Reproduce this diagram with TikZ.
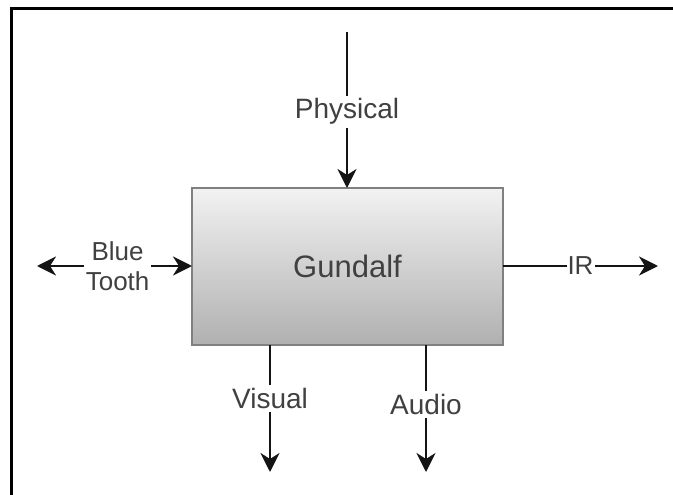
\documentclass[tikz,border=0pt]{standalone}
\usepackage{fontspec}
\setmainfont{Liberation Sans}
\usetikzlibrary{arrows.meta}
\definecolor{linec}{RGB}{20,20,20}
\definecolor{txtc}{RGB}{64,64,64}
\definecolor{boxtop}{RGB}{242,242,242}
\definecolor{boxbot}{RGB}{176,176,176}
\definecolor{boxline}{RGB}{128,128,128}
\begin{document}
\begin{tikzpicture}[x=1pt,y=-1pt,
  conn/.style={line width=2.2pt, draw=linec},
  tipend/.style={-{Stealth[length=19pt,width=19pt,inset=6pt]}},
  tipboth/.style={{Stealth[length=19pt,width=19pt,inset=6pt]}-{Stealth[length=19pt,width=19pt,inset=6pt]}},
  lbl/.style={fill=white, text=txtc, inner sep=3pt, font=\fontsize{28}{30}\selectfont},
  mainbox/.style={draw=boxline, line width=2.4pt, top color=boxtop, bottom color=boxbot,
    minimum width=311pt, minimum height=157pt, inner sep=0pt, outer sep=0pt,
    text=txtc, font=\fontsize{31}{33}\selectfont}]
\useasboundingbox (0,0) rectangle (673,495);
% frame
\coordinate (fr1) at (673,9);
\coordinate (fr2) at (11,9);
\coordinate (fr3) at (11,495);
\draw[line width=3pt, draw=black] (fr1) -- (fr2) -- (fr3);
% main box
\node[mainbox] (box) at (347.5,266.5) {Gundalf};
% physical
\coordinate (physTop) at (347,32);
\draw[conn, tipend] (physTop) -- node[lbl, pos=0.51] (phys) {Physical} (box.north -| physTop);
% bluetooth
\coordinate (btLeft) at (37,266);
\draw[conn, tipboth] (btLeft) -- node[lbl, pos=0.52, align=center, font=\fontsize{26}{30}\selectfont, inner sep=2pt] (bt) {Blue\\Tooth} (box.west |- btLeft);
% IR
\coordinate (irEnd) at (658,266);
\draw[conn, tipend] (box.east |- irEnd) -- node[lbl, pos=0.5, inner sep=1pt, font=\fontsize{26}{28}\selectfont] (ir) {IR} (irEnd);
% visual
\coordinate (visEnd) at (270,472);
\draw[conn, tipend] (box.south -| visEnd) -- node[lbl, pos=0.42] (vis) {Visual} (visEnd);
% audio
\coordinate (audEnd) at (426,472);
\draw[conn, tipend] (box.south -| audEnd) -- node[lbl, pos=0.47] (aud) {Audio} (audEnd);
\end{tikzpicture}
\end{document}
